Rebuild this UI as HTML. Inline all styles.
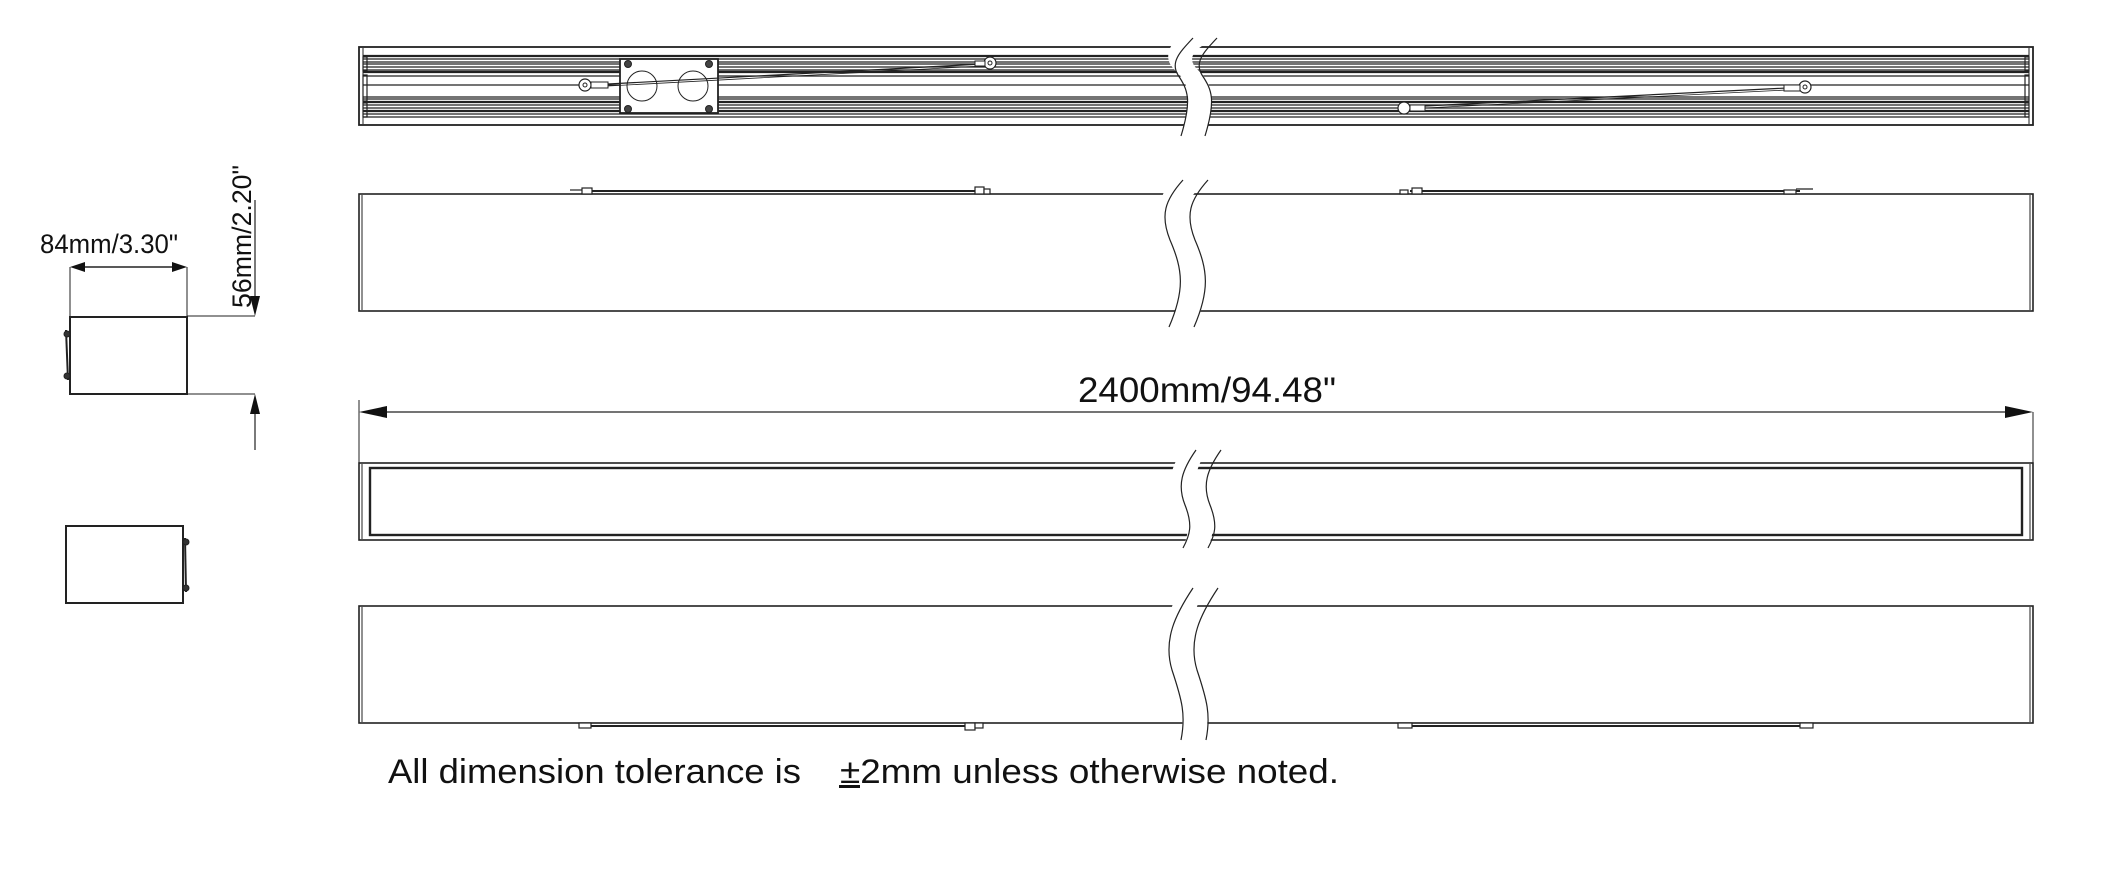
<!DOCTYPE html>
<html><head><meta charset="utf-8"><style>
html,body{margin:0;padding:0;background:#fff;}
svg{display:block;}
text{font-family:"Liberation Sans",Arial,sans-serif;fill:#111;}
</style></head><body>
<svg width="2110" height="887" viewBox="0 0 2110 887" xmlns="http://www.w3.org/2000/svg">
<g fill="none" stroke="#222">
<!-- ===== Bar 1 (top, ribbed) ===== -->
<rect x="359" y="47" width="1674" height="78" stroke-width="1.8"/>
<line x1="363" y1="48" x2="363" y2="124" stroke-width="1"/>
<line x1="2029" y1="48" x2="2029" y2="124" stroke-width="1"/>
<g stroke-width="1.3">
<line x1="363" y1="56" x2="2029" y2="56" stroke-width="2.2"/>
<line x1="363" y1="59" x2="2029" y2="59"/>
<line x1="363" y1="62" x2="2029" y2="62"/>
<line x1="363" y1="64" x2="2029" y2="64"/>
<line x1="363" y1="67" x2="2029" y2="67"/>
<line x1="363" y1="70" x2="2029" y2="70"/>
<line x1="363" y1="72" x2="2029" y2="72" stroke-width="2.2"/>
<line x1="363" y1="76" x2="2029" y2="76"/>
<line x1="363" y1="85" x2="2029" y2="85"/>
<line x1="363" y1="97" x2="2029" y2="97"/>
<line x1="363" y1="99" x2="2029" y2="99"/>
<line x1="363" y1="102" x2="2029" y2="102" stroke-width="2.2"/>
<line x1="363" y1="105" x2="2029" y2="105"/>
<line x1="363" y1="108" x2="2029" y2="108"/>
<line x1="363" y1="111" x2="2029" y2="111" stroke-width="2.2"/>
<line x1="363" y1="114" x2="2029" y2="114"/>
<line x1="363" y1="117" x2="2029" y2="117"/>
</g>
<g stroke-width="1.2">
<rect x="363" y="57" width="4" height="14"/><rect x="363" y="75" width="4" height="26"/><rect x="363" y="103" width="4" height="14"/>
<rect x="2025" y="57" width="4" height="14"/><rect x="2025" y="75" width="4" height="26"/><rect x="2025" y="103" width="4" height="14"/>
</g>
<!-- junction plate -->
<rect x="620" y="59" width="98" height="54" fill="#fff" stroke-width="1.8"/>
<circle cx="642" cy="86" r="15" stroke-width="1"/>
<circle cx="693" cy="86" r="15" stroke-width="1"/>
<g fill="#444" stroke-width="1">
<circle cx="628" cy="64" r="3.5"/><circle cx="709" cy="64" r="3.5"/><circle cx="628" cy="109" r="3.5"/><circle cx="709" cy="109" r="3.5"/>
</g>
<!-- wires bar1 -->
<line x1="608" y1="84" x2="982" y2="64" stroke-width="1.2"/>
<line x1="608" y1="86" x2="982" y2="66" stroke-width="0.8"/>
<circle cx="585" cy="85" r="6" fill="#fff" stroke-width="1.2"/><circle cx="585" cy="85" r="2" stroke-width="1"/>
<rect x="591" y="82" width="17" height="6" fill="#fff" stroke-width="1"/>
<circle cx="990" cy="63" r="6" fill="#fff" stroke-width="1.2"/><circle cx="990" cy="63" r="2" stroke-width="1"/>
<rect x="975" y="61" width="10" height="5" fill="#fff" stroke-width="1"/>
<line x1="1425" y1="106" x2="1787" y2="88" stroke-width="1.2"/>
<line x1="1425" y1="108" x2="1787" y2="90" stroke-width="0.8"/>
<circle cx="1404" cy="108" r="6" fill="#fff" stroke-width="1.2"/>
<rect x="1410" y="105" width="15" height="6" fill="#fff" stroke-width="1"/>
<circle cx="1805" cy="87" r="6" fill="#fff" stroke-width="1.2"/><circle cx="1805" cy="87" r="2" stroke-width="1"/>
<rect x="1784" y="85" width="16" height="6" fill="#fff" stroke-width="1"/>
<!-- break bar1 -->
<path d="M1176 38 C1168 50 1163 60 1177 72 C1190 85 1192 100 1181 136 L1205 136 C1215 100 1213 85 1200 72 C1186 60 1190 50 1217 38 Z" fill="#fff" stroke="none"/>
<path d="M1193 38 C1180 52 1170 62 1178 75 C1188 90 1192 100 1181 136" stroke-width="1.2"/>
<path d="M1217 38 C1204 52 1194 62 1202 75 C1212 90 1216 100 1205 136" stroke-width="1.2"/>

<!-- ===== Bar 2 ===== -->
<rect x="359" y="194" width="1674" height="117" stroke-width="1.6"/>
<line x1="362" y1="195" x2="362" y2="310" stroke-width="1"/>
<line x1="2030" y1="195" x2="2030" y2="310" stroke-width="1"/>
<g stroke-width="1.2">
<line x1="590" y1="191" x2="985" y2="191" stroke-width="2"/>
<rect x="582" y="188" width="10" height="6" fill="#fff"/><line x1="570" y1="190" x2="582" y2="190"/>
<rect x="975" y="187" width="9" height="7" fill="#fff"/><rect x="984" y="189" width="6" height="5" fill="#fff"/>
<line x1="1410" y1="191" x2="1800" y2="191" stroke-width="2"/>
<rect x="1412" y="188" width="10" height="6" fill="#fff"/><rect x="1400" y="190" width="8" height="4" fill="#fff"/>
<rect x="1784" y="190" width="12" height="4" fill="#fff"/><line x1="1796" y1="189" x2="1813" y2="189"/>
</g>
<path d="M1170 180 C1160 200 1150 215 1170 250 C1185 280 1182 300 1169 327 L1194 327 C1207 300 1210 280 1195 250 C1175 215 1185 200 1208 180 Z" fill="#fff" stroke="none"/>
<path d="M1183 180 C1165 200 1160 215 1170 240 C1183 270 1185 290 1169 327" stroke-width="1.2"/>
<path d="M1208 180 C1190 200 1185 215 1195 240 C1208 270 1210 290 1194 327" stroke-width="1.2"/>

<!-- ===== side view 1 ===== -->
<rect x="70" y="317" width="117" height="77" stroke-width="2"/>
<line x1="70" y1="267" x2="70" y2="316" stroke-width="1"/>
<line x1="187" y1="267" x2="187" y2="316" stroke-width="1"/>
<line x1="82" y1="267" x2="175" y2="267" stroke-width="1.4"/>
<path d="M66 330 L68 380" stroke-width="2"/>
<circle cx="67" cy="334" r="3" fill="#333"/><circle cx="67" cy="376" r="3" fill="#333"/>
<line x1="187" y1="316" x2="255" y2="316" stroke-width="1"/>
<line x1="187" y1="394" x2="255" y2="394" stroke-width="1"/>
<line x1="255" y1="200" x2="255" y2="300" stroke-width="1.2"/>
<line x1="255" y1="410" x2="255" y2="450" stroke-width="1.2"/>

<!-- ===== side view 2 ===== -->
<rect x="66" y="526" width="117" height="77" stroke-width="2"/>
<path d="M185 538 L186 592" stroke-width="2"/>
<circle cx="186" cy="542" r="3" fill="#333"/><circle cx="186" cy="588" r="3" fill="#333"/>

<!-- ===== dimension 2400 ===== -->
<line x1="380" y1="412" x2="2010" y2="412" stroke-width="1.2"/>
<line x1="359" y1="400" x2="359" y2="463" stroke-width="1"/>
<line x1="2033" y1="412" x2="2033" y2="463" stroke-width="1"/>

<!-- ===== Bar 3 ===== -->
<rect x="359" y="463" width="1674" height="77" stroke-width="1.6"/>
<rect x="370" y="468" width="1652" height="67" stroke-width="2.4"/>
<line x1="362" y1="464" x2="362" y2="539" stroke-width="1"/>
<line x1="2030" y1="464" x2="2030" y2="539" stroke-width="1"/>
<path d="M1182 450 C1170 470 1165 485 1180 505 C1192 520 1188 535 1183 548 L1208 548 C1213 535 1217 520 1205 505 C1190 485 1195 470 1207 450 Z" fill="#fff" stroke="none"/>
<path d="M1196 450 C1182 470 1177 485 1185 505 C1193 525 1190 535 1183 548" stroke-width="1.2"/>
<path d="M1221 450 C1207 470 1202 485 1210 505 C1218 525 1215 535 1208 548" stroke-width="1.2"/>

<!-- ===== Bar 4 ===== -->
<rect x="359" y="606" width="1674" height="117" stroke-width="1.6"/>
<line x1="362" y1="607" x2="362" y2="722" stroke-width="1"/>
<line x1="2030" y1="607" x2="2030" y2="722" stroke-width="1"/>
<g stroke-width="1.2">
<line x1="590" y1="726" x2="975" y2="726" stroke-width="2"/>
<rect x="579" y="723" width="12" height="5" fill="#fff"/>
<rect x="965" y="723" width="10" height="7" fill="#fff"/><rect x="975" y="723" width="8" height="5" fill="#fff"/>
<line x1="1410" y1="726" x2="1800" y2="726" stroke-width="2"/>
<rect x="1398" y="723" width="14" height="5" fill="#fff"/>
<rect x="1800" y="723" width="13" height="5" fill="#fff"/>
</g>
<path d="M1180 588 C1170 610 1160 630 1170 670 C1180 700 1185 715 1181 740 L1206 740 C1210 715 1205 700 1195 670 C1185 630 1195 610 1205 588 Z" fill="#fff" stroke="none"/>
<path d="M1193 588 C1175 615 1163 640 1172 670 C1182 700 1186 715 1181 740" stroke-width="1.2"/>
<path d="M1218 588 C1200 615 1188 640 1197 670 C1207 700 1211 715 1206 740" stroke-width="1.2"/>
</g>

<!-- arrowheads -->
<g fill="#111">
<polygon points="70,267 85,262 85,272"/>
<polygon points="187,267 172,262 172,272"/>
<polygon points="255,316 250,296 260,296"/>
<polygon points="255,394 250,414 260,414"/>
<polygon points="359,412 387,406 387,418"/>
<polygon points="2033,412 2005,406 2005,418"/>
</g>

<!-- text -->
<text x="40" y="253" font-size="27" textLength="138" lengthAdjust="spacingAndGlyphs">84mm/3.30"</text>
<text transform="translate(251,308) rotate(-90)" font-size="27" textLength="143" lengthAdjust="spacingAndGlyphs">56mm/2.20"</text>
<text x="1078" y="402" font-size="35" textLength="258" lengthAdjust="spacingAndGlyphs">2400mm/94.48"</text>
<text x="388" y="783" font-size="34" textLength="413" lengthAdjust="spacingAndGlyphs">All dimension tolerance is</text>
<text x="840" y="783" font-size="34" textLength="499" lengthAdjust="spacingAndGlyphs">±2mm unless otherwise noted.</text>
<rect x="839" y="785" width="21" height="3" fill="#111"/>
</svg>
</body></html>
